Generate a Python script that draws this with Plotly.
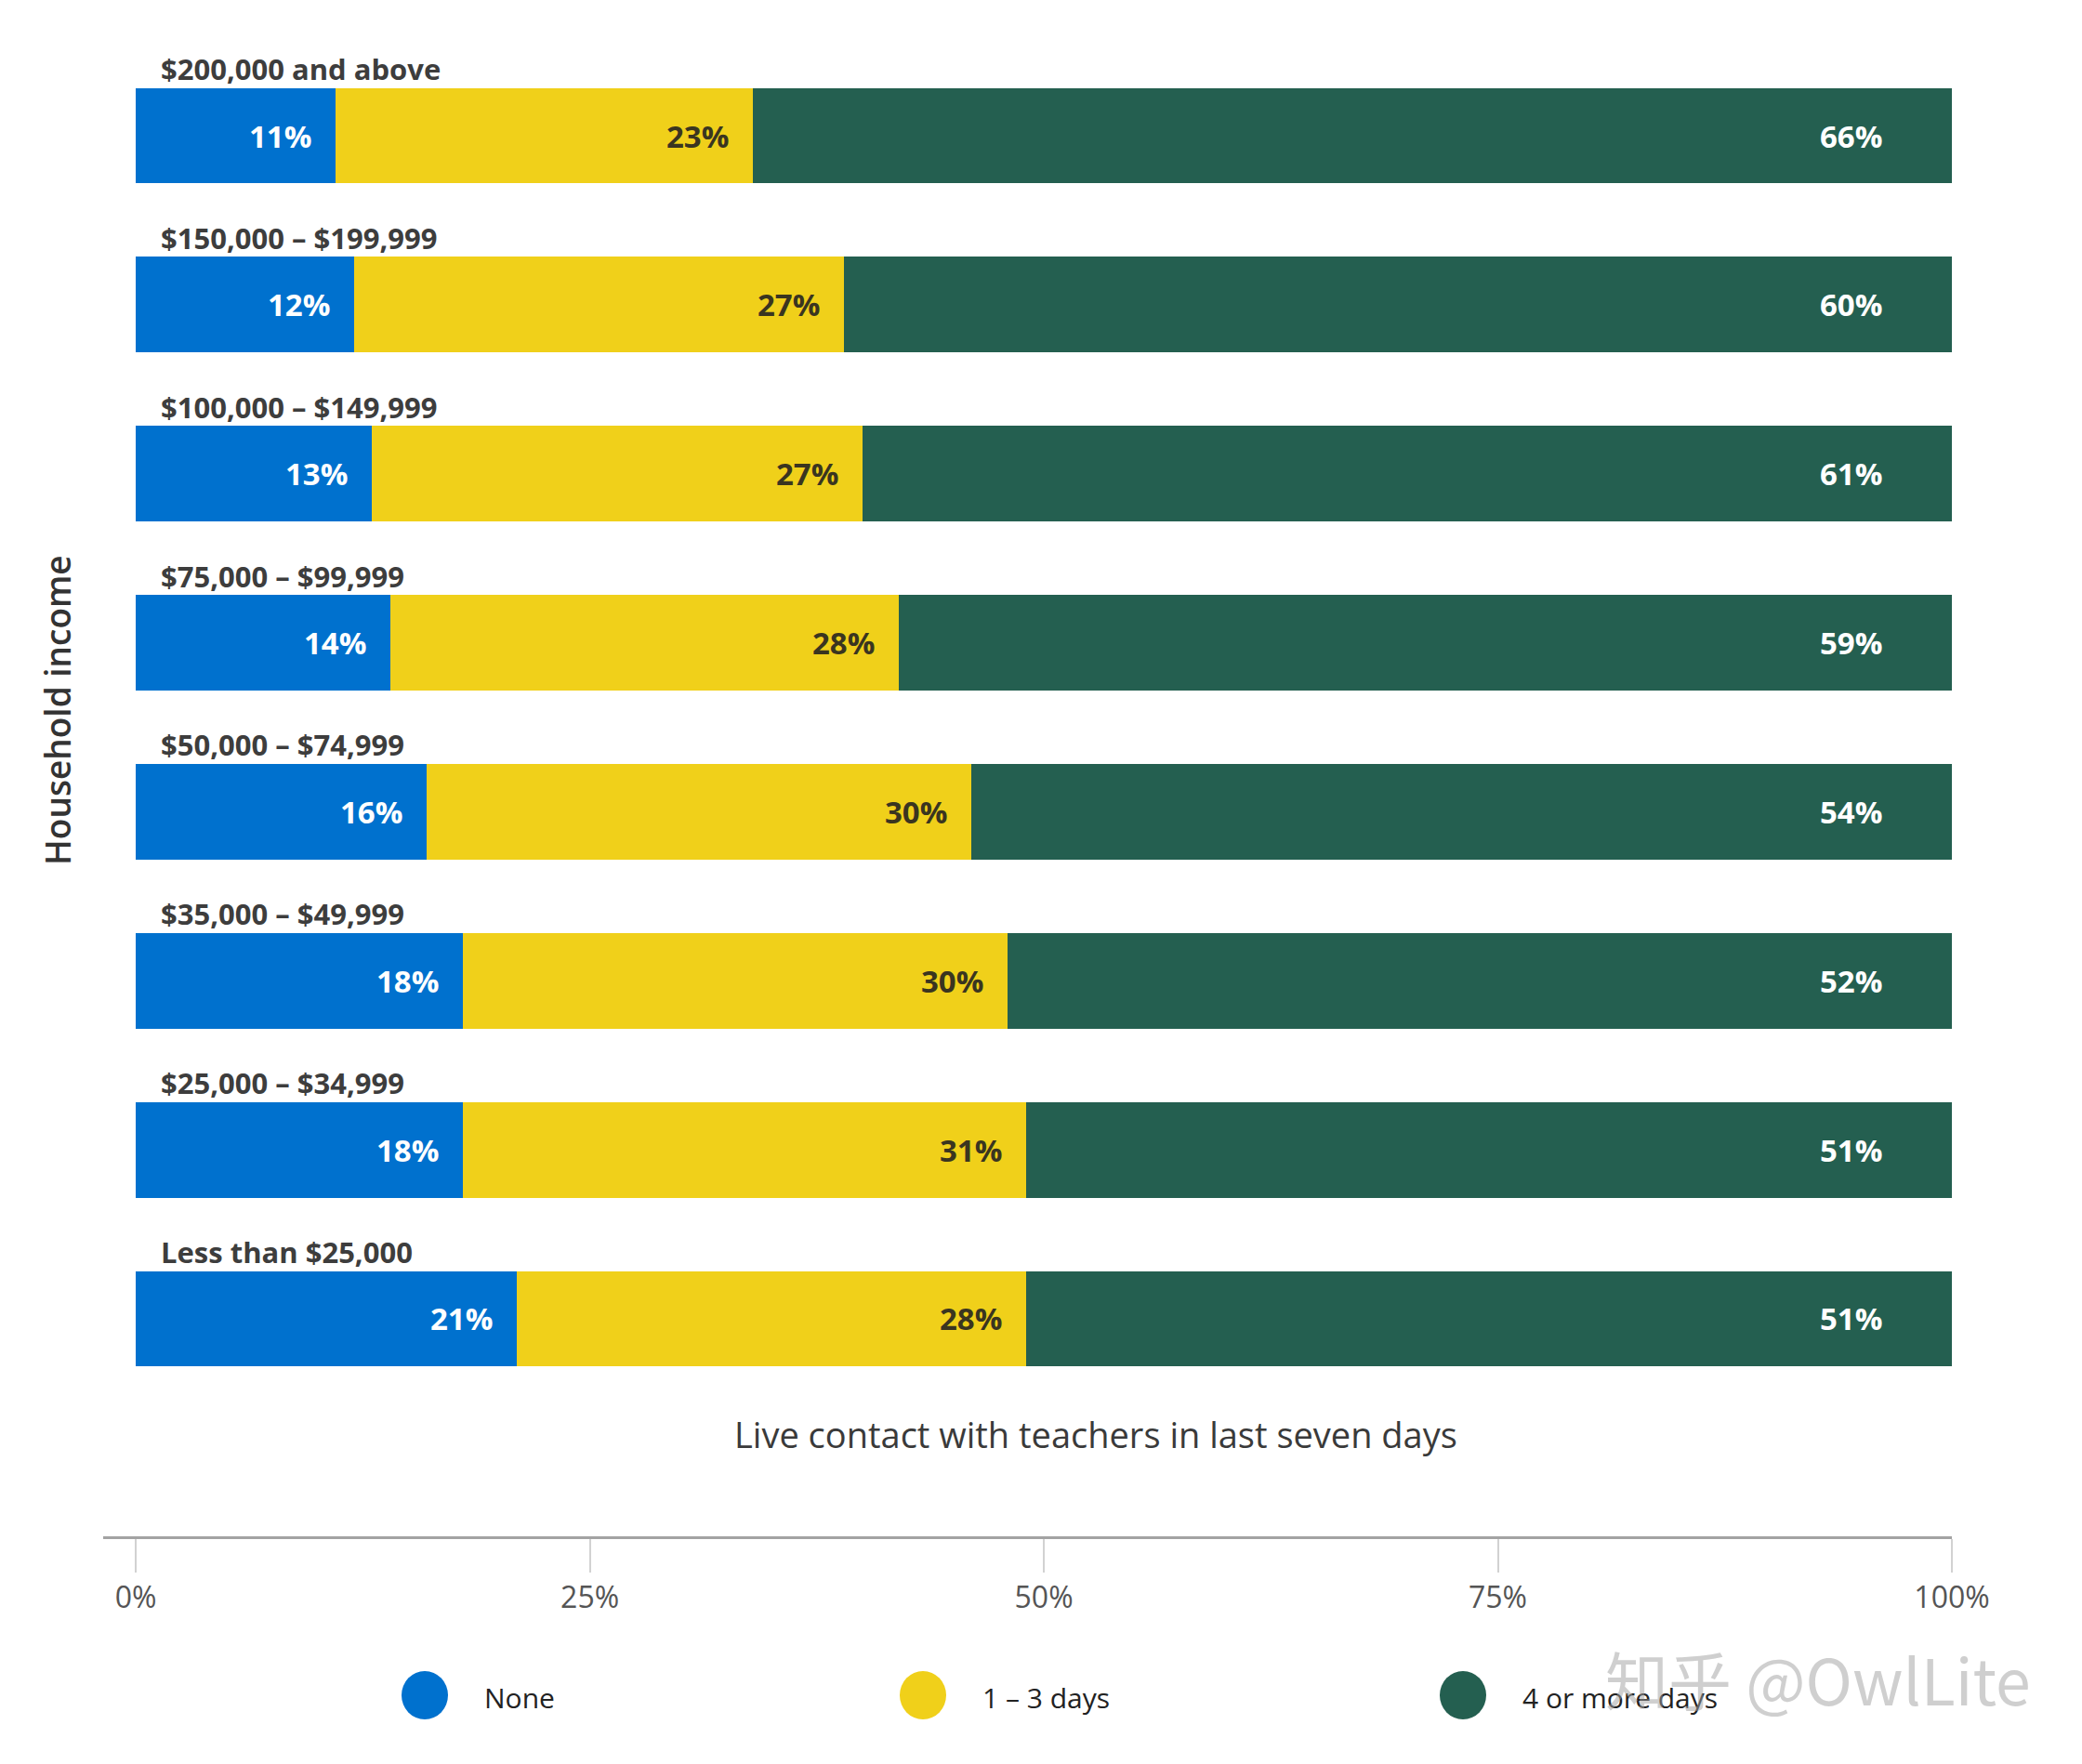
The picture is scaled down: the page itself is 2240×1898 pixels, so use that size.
import plotly.graph_objects as go

categories = ["$200,000 and above", "$150,000 – $199,999", "$100,000 – $149,999",
              "$75,000 – $99,999", "$50,000 – $74,999", "$35,000 – $49,999",
              "$25,000 – $34,999", "Less than $25,000"]
series_names = ["None", "1 – 3 days", "4 or more days"]
none_vals = [11, 12, 13, 14, 16, 18, 18, 21]
few_vals = [23, 27, 27, 28, 30, 30, 31, 28]
more_vals = [66, 60, 61, 59, 54, 52, 51, 51]
# visible length of the last segment as drawn in the picture (it reaches 100%)
more_bar_len = [66, 61, 61, 59, 54, 52, 51, 51]
tick_vals = [0, 25, 50, 75, 100]
tick_text = ["0%", "25%", "50%", "75%", "100%"]

colors = ["#0071CE", "#F0D01A", "#245F50"]
label_colors = ["#FFFFFF", "#3A3520", "#FFFFFF"]
FONT = "Open Sans"

W, H = 2240, 1898
PL, PR = 111, 2100      # plot area pixel x
PT, PB = 0, 1653        # plot area pixel y


def px_to_paper_x(px):
    return (px - PL) / (PR - PL)


def px_to_paper_y(py):
    return (PB - py) / (PB - PT)


fig = go.Figure()
bar_vals = [none_vals, few_vals, more_bar_len]
label_vals = [none_vals, few_vals, more_vals]
for name, vals, col in zip(series_names, bar_vals, colors):
    fig.add_trace(go.Bar(
        y=categories, x=vals, name=name, orientation="h",
        marker=dict(color=col, line=dict(width=0)),
        width=0.566, showlegend=False, hoverinfo="name",
    ))

annotations = []
# category labels above bars
for cat in categories:
    annotations.append(dict(
        x=0, y=cat, xref="x", yref="y", text=cat, showarrow=False,
        xanchor="left", yanchor="middle", xshift=25, yshift=72,
        font=dict(family=FONT, size=31, color="#3d3d3d", weight=700),
    ))

# value labels
for i, cat in enumerate(categories):
    cum = 0
    for s in range(3):
        cum += bar_vals[s][i]
        if s < 2:
            xpos, shift = cum, -24
        else:
            xpos, shift = 100, -73
        annotations.append(dict(
            x=xpos, y=cat, xref="x", yref="y", text=f"{label_vals[s][i]}%",
            showarrow=False, xanchor="right", yanchor="middle", xshift=shift,
            font=dict(family=FONT, size=33, color=label_colors[s], weight=700),
        ))

# axis titles
annotations.append(dict(
    x=px_to_paper_x(1179), y=px_to_paper_y(1543), xref="paper", yref="paper",
    text="Live contact with teachers in last seven days", showarrow=False,
    xanchor="center", yanchor="middle",
    font=dict(family=FONT, size=38, color="#3a3a3a"),
))
annotations.append(dict(
    x=px_to_paper_x(61), y=px_to_paper_y(764), xref="paper", yref="paper",
    text="Household income", showarrow=False, textangle=-90,
    xanchor="center", yanchor="middle",
    font=dict(family=FONT, size=37, color="#333333", weight=600),
))

# custom legend
shapes = []
legend_circle_px = [457, 993, 1574]
legend_y_px = 1824
for name, col, cx in zip(series_names, colors, legend_circle_px):
    shapes.append(dict(
        type="circle", xref="paper", yref="paper",
        xsizemode="pixel", ysizemode="pixel",
        xanchor=px_to_paper_x(cx), yanchor=px_to_paper_y(legend_y_px),
        x0=-25, x1=25, y0=-26, y1=26,
        fillcolor=col, line=dict(width=0),
    ))
    annotations.append(dict(
        x=px_to_paper_x(cx + 62), y=px_to_paper_y(legend_y_px + 3),
        xref="paper", yref="paper", text=name, showarrow=False,
        xanchor="left", yanchor="middle",
        font=dict(family=FONT, size=30, color="#222222"),
    ))

# watermark
annotations.append(dict(
    x=px_to_paper_x(1956), y=px_to_paper_y(1806), xref="paper", yref="paper",
    text="知乎 @OwlLite", showarrow=False, xanchor="center", yanchor="middle",
    font=dict(family="Noto Sans CJK SC", size=68, color="rgba(160,160,160,0.5)"),
))

fig.update_layout(
    barmode="stack",
    width=W, height=H,
    margin=dict(l=PL, r=W - PR, t=PT, b=H - PB, pad=0),
    paper_bgcolor="white", plot_bgcolor="white",
    font=dict(family=FONT),
    showlegend=False,
    annotations=annotations,
    shapes=shapes,
    xaxis=dict(
        range=[-1.8, 100], tickvals=tick_vals, ticktext=tick_text,
        showgrid=False, zeroline=False,
        showline=True, linecolor="#a3a3a3", linewidth=3,
        ticks="outside", ticklen=36, tickwidth=1.5, tickcolor="#d2d2d2",
        tickfont=dict(family=FONT, size=32, color="#555555"),
        fixedrange=True,
    ),
    yaxis=dict(
        categoryorder="array", categoryarray=categories,
        range=[8.287, -0.803],
        showticklabels=False, showgrid=False, zeroline=False,
        showline=False, ticks="", fixedrange=True,
    ),
)

fig.write_html("out.html")
